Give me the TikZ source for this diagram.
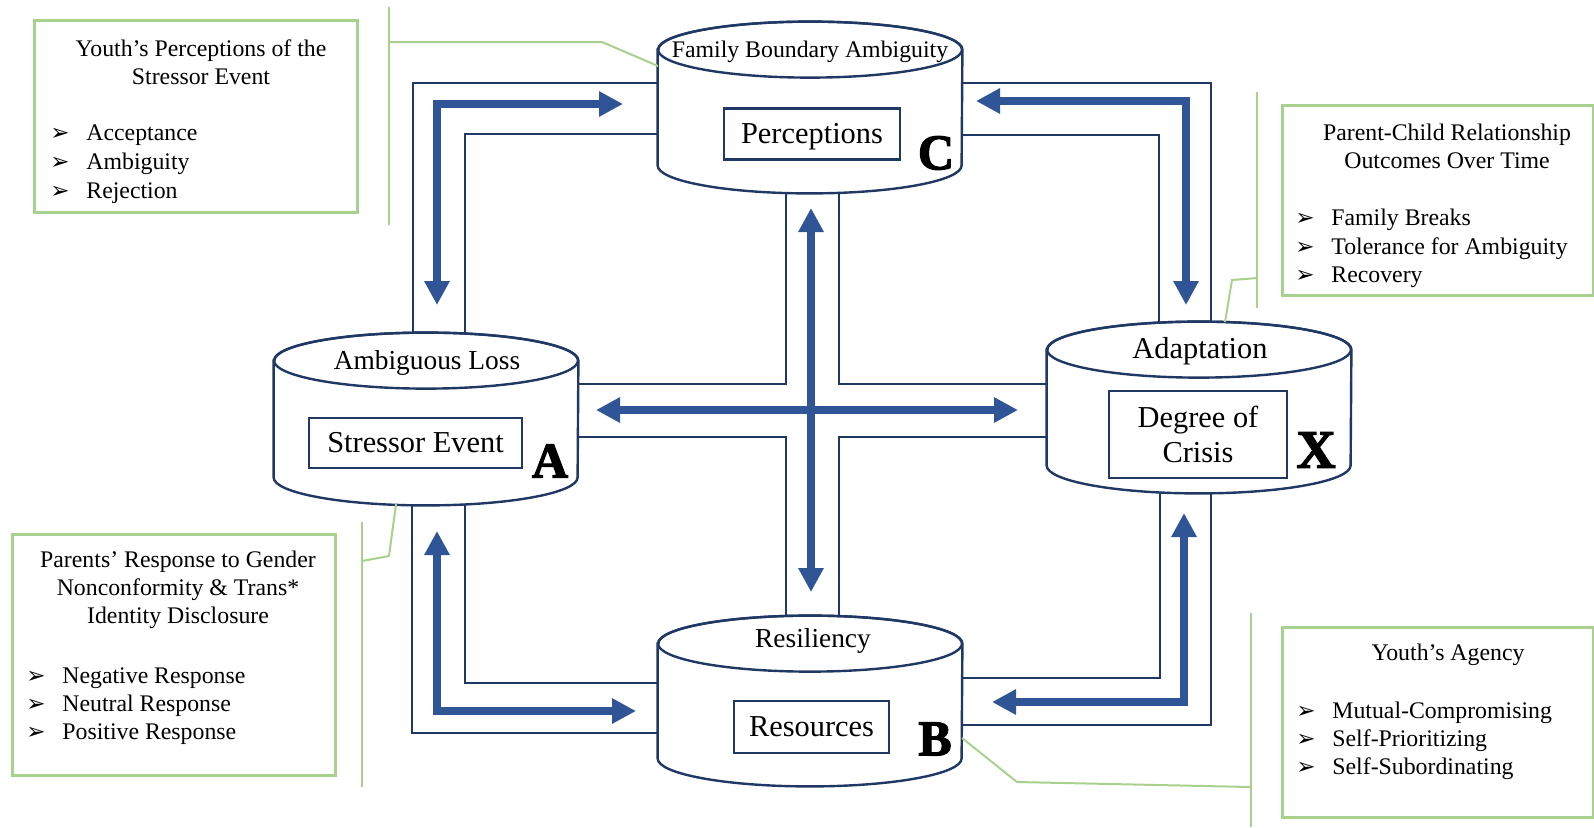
\documentclass[tikz,border=0pt]{standalone}
\usepackage{fontspec}
\setmainfont{Liberation Serif}
\newfontface\dingfont{DejaVu Sans}
\newfontface\letterfont[FakeBold=2.5]{Liberation Serif Bold}
\usepackage{tikz}
\usetikzlibrary{arrows.meta}
\definecolor{navy}{RGB}{32,56,100}
\definecolor{flowblue}{RGB}{47,85,151}
\definecolor{leaf}{RGB}{169,209,142}
\tikzset{>={Triangle[length=12pt,width=12pt]}}
\newcommand{\smallsz}{\fontsize{11.9}{14}\selectfont}
\newcommand{\midsz}{\fontsize{13.7}{16}\selectfont}
\newcommand{\bigsz}{\fontsize{15.2}{17.5}\selectfont}
\newcommand{\arrowblt}{{\dingfont\fontsize{11.5}{12}\selectfont\char"27A2}}
\newcommand{\itm}[1]{\makebox[18pt][l]{\arrowblt}#1}
\tikzset{
  body/.style={inner sep=0, minimum width=152pt, minimum height=57.5pt},
  drumline/.style={draw=navy, line width=1.2pt},
  pipe/.style={draw=navy, line width=1pt},
  flow/.style={draw=flowblue, line width=4pt},
  tag/.style={draw=navy, line width=1.3pt, inner sep=0, font=\bigsz},
  tagline/.style={tag, text height=1.16em, text depth=.2em},
  note/.style={draw=leaf, line width=1.5pt, inner sep=0},
  tie/.style={draw=leaf, line width=1pt},
  lbl/.style={inner sep=0, text height=.7em, text depth=.2em},
  item/.style={anchor=west, inner sep=0, text height=8pt, text depth=2.6pt, font=\smallsz},
  title/.style={inner sep=0, align=center, font=\smallsz},
  letter/.style={inner sep=0, font=\letterfont\fontsize{25}{25}\selectfont}
}
% one drum: filled body plus top rim
\newcommand{\drum}[1]{%
  \filldraw[drumline, fill=white] (#1.north west) -- (#1.south west)
    arc[start angle=180, end angle=0, x radius=152, y radius=28] -- (#1.north east)
    arc[start angle=0, end angle=-180, x radius=152, y radius=28] -- cycle;
  \draw[drumline] (#1.north) ellipse[x radius=152, y radius=28];
}

\begin{document}
\begin{tikzpicture}[x=0.5pt, y=-0.5pt]
\useasboundingbox (0,0) rectangle (1594,827);
    %drum bodies
    \node[body] (C) at (810,107.5) {};
    \node[body, minimum height=58pt] (A) at (426,419) {};
    \node[body] (X) at (1199,407.5) {};
    \node[body, minimum height=57pt] (B) at (810,701) {};
    %pipes
    \coordinate (tlo) at (413,83);
    \coordinate (tli) at (465,134);
    \coordinate (tro) at (1211,83);
    \coordinate (tri) at (1159,135);
    \coordinate (blo) at (412,733);
    \coordinate (bli) at (465,683);
    \coordinate (bro) at (1211,725);
    \coordinate (bri) at (1160,678);
    \coordinate (ul) at (786,384);
    \coordinate (ll) at (786,437);
    \coordinate (ur) at (839,384);
    \coordinate (lr) at (839,437);
    \draw[pipe] (C.west |- tlo) -| (tlo |- A.north);
    \draw[pipe] (C.west |- tli) -| (tli |- A.north);
    \draw[pipe] (C.east |- tro) -| (tro |- X.north);
    \draw[pipe] (C.east |- tri) -| (tri |- X.north);
    \draw[pipe] (A.south -| blo) |- (B.west |- blo);
    \draw[pipe] (A.south -| bli) |- (B.west |- bli);
    \draw[pipe] (X.south -| bro) |- (B.east |- bro);
    \draw[pipe] (X.south -| bri) |- (B.east |- bri);
    \draw[pipe] (A.east |- ul) -| (ul |- C.south);
    \draw[pipe] (A.east |- ll) -| (ll |- B.north);
    \draw[pipe] (X.west |- ur) -| (ur |- C.south);
    \draw[pipe] (X.west |- lr) -| (lr |- B.north);
    %drums
    \drum{C}
    \drum{A}
    \drum{X}
    \drum{B}
    %arrows
    \draw[flow, <->] (437,305) |- (623,104);
    \draw[flow, <->] (976,101) -| (1186,305);
    \draw[flow, <->] (437,531) |- (636,711);
    \draw[flow, <->] (992,702) -| (1184,513);
    \draw[flow, line width=3.6pt, <->] (596,410) -- (1018,410);
    \draw[flow, line width=3.6pt, <->] (811,208) -- (811,592);
    %drum labels
    \node[lbl, font=\smallsz] (famtop) at (810,52) {Family Boundary Ambiguity};
    \node[tagline, minimum width=88pt, minimum height=25.5pt] (percep) at (812,134) {Perceptions};
    \node[letter] (letC) at (936,153) {C};
    \node[lbl, font=\midsz] (losstop) at (427,364) {Ambiguous Loss};
    \node[tagline, minimum width=106.5pt, minimum height=25pt] (stress) at (415.5,443) {Stressor Event};
    \node[letter] (letA) at (550,461) {A};
    \node[lbl, font=\bigsz] (adapttop) at (1200,353) {Adaptation};
    \node[tag, align=center, minimum width=89pt, minimum height=43.5pt] (crisis) at (1198,434.5) {Degree of\\Crisis};
    \node[letter, font=\letterfont\fontsize{27}{27}\selectfont] (letX) at (1316,450) {X};
    \node[lbl, font=\midsz] (resiltop) at (813,642) {Resiliency};
    \node[tagline, minimum width=77.5pt, minimum height=26pt] (resour) at (811.5,727) {Resources};
    \node[letter] (letB) at (935,739) {B};
    %notes
    \node[note, minimum width=161.5pt, minimum height=96pt] (percnote) at (195.5,116) {};
    \node[title] (perchead) at (201,62) {Youth’s Perceptions of the\\Stressor Event};
    \node[item] (perc1) at (50,135) {\itm{Acceptance}};
    \node[item] (perc2) at (50,164) {\itm{Ambiguity}};
    \node[item] (perc3) at (50,193) {\itm{Rejection}};
    \draw[tie] (389,7) -- (389,225);
    \draw[tie] (389,42) -- (602,42) -- (658,66);
    \node[note, minimum width=155.5pt, minimum height=95pt] (outnote) at (1437.5,200) {};
    \node[title] (outhead) at (1447,146.5) {Parent-Child Relationship\\Outcomes Over Time};
    \node[item] (out1) at (1295,220) {\itm{Family Breaks}};
    \node[item] (out2) at (1295,249) {\itm{Tolerance for Ambiguity}};
    \node[item] (out3) at (1295,277) {\itm{Recovery}};
    \draw[tie] (1257,92) -- (1257,308);
    \draw[tie] (1257,278) -- (1232,280) -- (1225,322);
    \node[note, minimum width=161.5pt, minimum height=120.5pt] (respnote) at (173.5,654.5) {};
    \node[title] (resphead) at (178,590) {Parents’ Response to Gender\\Nonconformity \& Trans*\\Identity Disclosure};
    \node[item] (resp1) at (26,678) {\itm{Negative Response}};
    \node[item] (resp2) at (26,706) {\itm{Neutral Response}};
    \node[item] (resp3) at (26,734) {\itm{Positive Response}};
    \draw[tie] (362,522) -- (362,787);
    \draw[tie] (362,561) -- (389,556) -- (396,504);
    \node[note, minimum width=155.5pt, minimum height=95pt] (agnote) at (1437.5,722) {};
    \node[title] (aghead) at (1448,655) {Youth’s Agency};
    \node[item] (ag1) at (1296,713) {\itm{Mutual-Compromising}};
    \node[item] (ag2) at (1296,741) {\itm{Self-Prioritizing}};
    \node[item] (ag3) at (1296,769) {\itm{Self-Subordinating}};
    \draw[tie] (1251,613) -- (1251,827);
    \draw[tie] (962,738) -- (1017,782) -- (1251,787);
\end{tikzpicture}
\end{document}
